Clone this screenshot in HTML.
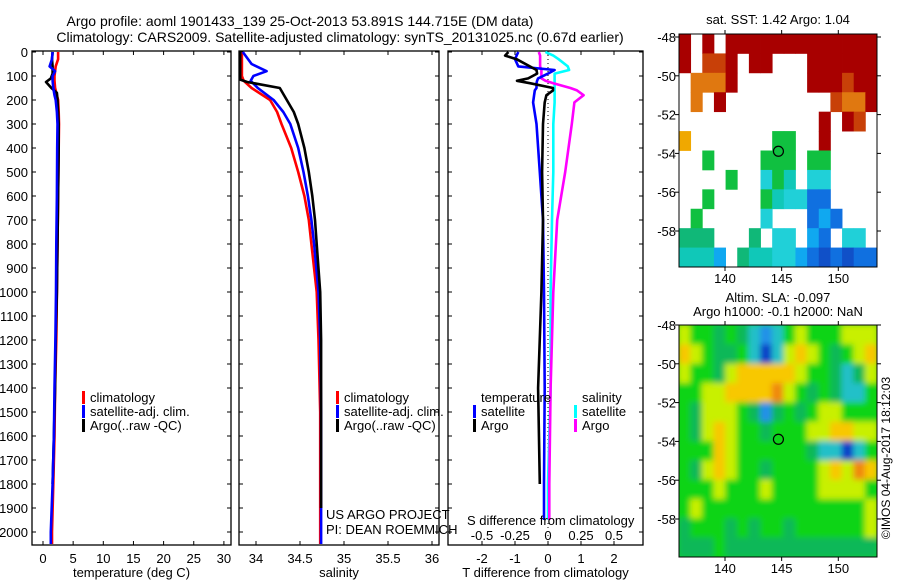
<!DOCTYPE html>
<html><head><meta charset="utf-8">
<style>
body{margin:0;background:#fff;}
svg{display:block;font-family:"Liberation Sans",sans-serif;}
text{fill:#000;}
</style></head>
<body>
<svg id="fig" width="900" height="580" viewBox="0 0 900 580" xmlns="http://www.w3.org/2000/svg">
<text x="300" y="26" font-size="14" text-anchor="middle">Argo profile: aoml 1901433_139 25-Oct-2013 53.891S 144.715E (DM data)</text>
<text x="340" y="42" font-size="14" text-anchor="middle">Climatology: CARS2009. Satellite-adjusted climatology: synTS_20131025.nc (0.67d earlier)</text>
<g id="g"></g>
</svg>
<script>
// ---- profile data (depth in dbar) ----
const tDepth = [0,30,60,80,100,120,150,180,200,250,300,400,600,800,1000,1200,1400,1600,1800,2000,2050];
const tClim = [2.5,2.5,2.1,2.0,1.9,1.9,2.0,2.3,2.5,2.6,2.65,2.6,2.5,2.4,2.3,2.2,2.0,1.9,1.7,1.5,1.5];
const tSat  = [1.6,1.5,1.1,2.0,1.6,1.6,1.7,1.9,2.1,2.3,2.4,2.35,2.3,2.2,2.15,2.05,1.9,1.8,1.6,1.3,1.3];
const tArgoDepth = [0,30,60,90,110,125,150,170,200,300,400,600,800,1000,1200,1400,1600,1800];
const tArgo = [1.6,1.5,1.6,1.6,1.3,0.5,1.4,2.3,2.4,2.6,2.6,2.5,2.4,2.3,2.1,2.0,1.8,1.6];
const sDepth = [0,50,80,100,120,150,200,250,300,400,500,600,700,800,1000,1200,1500,2000,2050];
const sClim = [33.84,33.84,33.84,33.84,33.86,33.95,34.16,34.24,34.29,34.4,34.48,34.55,34.6,34.63,34.69,34.71,34.73,34.73,34.73];
const sSat  = [33.85,33.95,34.12,33.97,33.94,34.02,34.2,34.31,34.39,34.48,34.54,34.59,34.63,34.66,34.71,34.73,34.74,34.74,34.74];
const sArgoDepth = [0,100,115,125,150,200,250,300,400,500,600,700,800,1000,1200,1500,1900];
const sArgo = [33.82,33.82,33.82,33.9,34.27,34.35,34.43,34.48,34.55,34.6,34.64,34.67,34.69,34.73,34.74,34.74,34.74];
const dDepth = [0,15,30,60,75,90,110,120,130,150,160,180,210,300,500,700,1000,1400,1800,1950];
const dTSat  = [-0.9,-0.95,-1.0,-0.9,0.2,0.0,-0.3,-0.33,-0.35,-0.35,-0.4,-0.42,-0.45,-0.35,-0.25,-0.15,-0.12,-0.1,-0.12,-0.12];
const dTArgo = [-1.2,-1.3,-0.95,-0.55,-0.35,-0.33,-0.6,-0.94,-0.55,0.15,0.15,-0.05,-0.1,-0.15,-0.18,-0.15,-0.2,-0.3,-0.25,-0.25];
const dSSat  = [-0.02,0.04,0.08,0.15,0.16,0.05,0.05,0.05,0.05,0.05,0.05,0.05,0.05,0.04,0.04,0.03,0.02,0.02,0.0,0.0];
const dSArgo = [-0.07,-0.06,-0.06,-0.06,-0.05,-0.05,-0.05,-0.02,0.04,0.17,0.22,0.27,0.2,0.18,0.13,0.07,0.04,0.02,0.01,0.01];
const depthTicks = [0,100,200,300,400,500,600,700,800,900,1000,1100,1200,1300,1400,1500,1600,1700,1800,1900,2000];
const tTicks = [0,5,10,15,20,25,30];
const sTicks = [34,34.5,35,35.5,36];
const dTTicks = [-2,-1,0,1,2];
const dSTicks = [-0.5,-0.25,0,0.25,0.5];
// ---- maps (1-degree cells, rows lat 48..60, cols lon from 135.9) ----
const N = null;
const sstGrid = [
[3,N,3,N,3,3,3,3,3,3,3,3,3,3,3,3,3],
[3,N,2.5,2.5,3,N,3,3,N,N,N,3,3,3,3,3,3],
[N,2,2,2,3,N,N,N,N,N,N,3,3,3,2.5,3,3],
[N,2,N,3,N,N,N,N,N,N,N,N,N,2.5,2,2,3],
[N,N,N,N,N,N,N,N,N,N,N,N,3,N,3,2.5,N],
[1.8,N,N,N,N,N,N,N,1,1,N,N,3,N,N,N,N],
[N,N,1,N,N,N,N,1,1,1,N,1,1,N,N,N,N],
[N,N,N,N,1,N,N,0.5,1,0.6,N,0.5,0.5,N,N,N,N],
[N,N,1,N,N,N,N,1,0.6,0.5,0.5,0,0,N,N,N,N],
[N,1,N,N,N,N,N,0.5,N,N,N,0,0.3,0,N,N,N],
[0.8,0.8,0.8,N,N,N,0.8,N,0.5,0.5,N,0.3,0,N,0.5,0.5,N],
[0.6,0.6,0.7,0.3,N,0.8,0.6,0.7,0.5,0.5,0.3,0,-0.3,0,-0.3,0,0]];
const slaGrid = [
[0.5,0,0,-0.5,0,-0.5,-1,-1.5,-1,0,0.5,0,0,0,0.5,0.5,0.5],
[1,0.5,0,-0.5,-0.5,0,-1,-2,-1,0.5,1,0.5,0,-0.5,0,0.5,1],
[0.5,0,0,-0.5,0.5,1,1,1,1,1,0.5,0,0,-0.5,-1,-0.5,0.5],
[0,0,0.5,0.5,1,1,1,1,1.5,0.5,0,-0.5,0,-0.5,-1,-1,0],
[0,-0.5,0.5,0.5,0.5,0,-0.5,-1.5,-0.5,0,-0.5,0,0.5,0.5,0,0,0],
[0,-0.5,0.5,1,0.5,0,0,-0.5,0,0,0,0.5,0.5,1,1,0.5,0.5],
[0,0,0,1,0.5,0,0,0,0,0,0,-0.5,-1,-1,-2,-1,0],
[0,-0.5,0.5,1,0.5,0,0,-0.5,0,0,0,0,0.5,1,0.5,1.5,1],
[0,0,0,0.5,0,0,0,0.5,0,0,0,0,0.5,0.5,0.5,0.5,0],
[0,0.5,0,0,0,0,0,0,0,0,0,0,0,0,0,0,0.5],
[-0.5,0,0,0,-0.5,0,-0.5,0,0,-0.5,0,0,0,0,0,0,0.5],
[-0.5,-0.5,-0.5,0,-0.5,-0.5,-0.5,-0.5,-0.5,-0.5,-0.5,-0.5,-0.5,-0.5,-0.5,-0.5,-0.5]];
const latTicks = [48,50,52,54,56,58];
const lonTicks = [140,145,150];
const floatLon = 144.715, floatLat = 53.891;

const NS="http://www.w3.org/2000/svg";
const G=document.getElementById('g');
function mk(tag,attrs,parent){const e=document.createElementNS(NS,tag);for(const k in attrs)e.setAttribute(k,attrs[k]);(parent||G).appendChild(e);return e;}
function txt(s,x,y,attrs,parent){const e=mk('text',Object.assign({x:x,y:y,'font-size':13},attrs||{}),parent);e.textContent=s;return e;}

const yD = d => 52 + 0.24*d;
const PT=51, PB=545;
const xT = v => 43 + 6.03*v;
const xS = v => 256 + 88*(v-34);
const xDT = v => 548 + 33*v;
const xDS = v => 548 + 132*v;

function panel(name,x0,x1,ticks,xf,xlabel,showY){
  const r=mk('rect',{x:x0,y:PT,width:x1-x0,height:PB-PT,fill:'none',stroke:'#000','stroke-width':1.3});
  
  
  depthTicks.forEach(d=>{const y=yD(d);
    mk('line',{x1:x0,x2:x0+4,y1:y,y2:y,stroke:'#000'});
    mk('line',{x1:x1,x2:x1-4,y1:y,y2:y,stroke:'#000'});
    if(showY){const t=txt(String(d),28,y+5,{'text-anchor':'end'});
      
      }
  });
  ticks.forEach(v=>{const x=xf(v);
    mk('line',{x1:x,x2:x,y1:PB,y2:PB-4,stroke:'#000'});
    mk('line',{x1:x,x2:x,y1:PT,y2:PT+4,stroke:'#000'});
    const t=txt(String(v),x,563,{'text-anchor':'middle'});
    
    
  });
  const l=txt(xlabel,(x0+x1)/2,577,{'text-anchor':'middle'});
  
  
}
function line(name,depths,vals,xf,color,w){
  const pts=depths.map((d,i)=>xf(vals[i]).toFixed(1)+','+Math.min(yD(d),PB).toFixed(1)).join(' ');
  const p=mk('polyline',{points:pts,fill:'none',stroke:color,'stroke-width':w||2.6,'stroke-linejoin':'round'});
  
  
}
function legend(items,x,y){
  items.forEach((it,i)=>{
    if(it[1]) mk('rect',{x:x,y:y+i*14-11,width:3,height:13,fill:it[1]});
    const t=txt(it[0],x+8,y+i*14,{});
    
    
  });
}

panel('temperature-panel',32,231,tTicks,xT,'temperature (deg C)',true);
panel('salinity-panel',239,439,sTicks,xS,'salinity',false);
panel('difference-panel',448,643,dTTicks,xDT,'T difference from climatology',false);

line('temp-climatology-line',tDepth,tClim,xT,'#f00');
line('temp-argo-line',tArgoDepth,tArgo,xT,'#000');
line('temp-satellite-line',tDepth,tSat,xT,'#00f');
line('sal-climatology-line',sDepth,sClim,xS,'#f00');
line('sal-satellite-line',sDepth,sSat,xS,'#00f');
line('sal-argo-line',sArgoDepth,sArgo,xS,'#000');
const zl=mk('line',{x1:xDT(0),x2:xDT(0),y1:PT,y2:PB,stroke:'#000','stroke-dasharray':'1,3'});


line('salinity-satellite-diff-line',dDepth,dSSat,xDS,'#0ff');
line('salinity-argo-diff-line',dDepth,dSArgo,xDS,'#f0f');
line('temp-satellite-diff-line',dDepth,dTSat,xDT,'#00f');
line('temp-argo-diff-line',dDepth.slice(0,19),dTArgo.slice(0,19),xDT,'#000');

legend([['climatology','#f00'],['satellite-adj. clim.','#00f'],['Argo(..raw -QC)','#000']],82,402);
legend([['climatology','#f00'],['satellite-adj. clim.','#00f'],['Argo(..raw -QC)','#000']],336,402);
legend([['temperature',null],['satellite','#00f'],['Argo','#000']],473,402);
legend([['salinity',null],['satellite','#0ff'],['Argo','#f0f']],574,402);
txt('US ARGO PROJECT',326,519,{});
txt('PI: DEAN ROEMMICH',326,534,{});
txt('S difference from climatology',467,525,{});
dSTicks.forEach(v=>{const t=txt(String(v),xDS(v),540,{'text-anchor':'middle'});
  
  });

// ---- maps ----
const MX0=679, MX1=877;
const xLon = lon => 725 + 11.33*(lon-140);
function sstColor(v){if(v>=2.8)return '#a80000';if(v>=2.3)return '#c84008';if(v>=1.9)return '#e07810';if(v>=1.5)return '#f0a800';
 if(v>=0.9)return '#10c040';if(v>=0.75)return '#10b878';if(v>=0.55)return '#10c8b8';if(v>=0.4)return '#20d0d8';if(v>=0.2)return '#10a8f0';if(v>=-0.1)return '#1070e0';return '#1050c8';}
function slaColor(v){if(v<=-1.9)return '#1040c8';if(v<=-1.4)return '#2090e8';if(v<=-0.9)return '#20c0c8';if(v<=-0.4)return '#10b858';
 if(v<0.4)return '#10d418';if(v<0.9)return '#c8f000';if(v<1.4)return '#f8c800';return '#f08810';}
function map(name,top,bottom,grid,colf,lat0y,blur){
  const yLat = lat => lat0y + 19.4*(lat-48);
  const cid=name+'-clip';
  const cp=mk('clipPath',{id:cid});mk('rect',{x:MX0,y:top,width:MX1-MX0,height:bottom-top},cp);
  if(blur){const f=mk('filter',{id:name+'-blur',x:'-10%',y:'-10%',width:'120%',height:'120%'});mk('feGaussianBlur',{stdDeviation:3},f);}
  const gg=mk('g',{'clip-path':'url(#'+cid+')'});
  const inner=mk('g',blur?{filter:'url(#'+name+'-blur)'}:{},gg);
  const cw=(MX1-MX0)/17, rh=(bottom-top)/12;
  grid.forEach((row,r)=>row.forEach((v,c)=>{ if(v===null)return;
    const cell=mk('rect',{x:MX0+c*cw-(blur?0.5:0),y:top+r*rh,width:cw+(blur?1:0.4),height:rh+0.4,fill:colf(v)},inner);
    
    
  }));
  if(blur){inner.insertBefore(mk('rect',{x:MX0-20,y:top-20,width:240,height:bottom-top+40,fill:'#10d418'},inner),inner.firstChild);}
  const fr=mk('rect',{x:MX0,y:top,width:MX1-MX0,height:bottom-top,fill:'none',stroke:'#000'});
  
  
  latTicks.forEach(l=>{const y=yLat(l);
    mk('line',{x1:MX0-4,x2:MX0,y1:y,y2:y,stroke:'#000'});mk('line',{x1:MX1,x2:MX1+4,y1:y,y2:y,stroke:'#000'});
    const t=txt('-'+l,676,y+5,{'text-anchor':'end'});
    
    });
  lonTicks.forEach(l=>{const x=xLon(l);
    mk('line',{x1:x,x2:x,y1:top-4,y2:top,stroke:'#000'});mk('line',{x1:x,x2:x,y1:bottom,y2:bottom+4,stroke:'#000'});
    const t=txt(String(l),x,bottom+16,{'text-anchor':'middle'});
    
    });
  const c=mk('circle',{cx:xLon(floatLon),cy:yLat(floatLat),r:5,fill:'none',stroke:'#000','stroke-width':1.2});
  
  
}
map('sst-map',34,267,sstGrid,sstColor,37,false);
map('sla-map',325,557,slaGrid,slaColor,325,true);
txt('sat. SST: 1.42 Argo: 1.04',778,24,{'text-anchor':'middle'});
txt('Altim. SLA: -0.097',778,302,{'text-anchor':'middle'});
txt('Argo h1000: -0.1 h2000: NaN',778,316,{'text-anchor':'middle'});
const cr=txt('©IMOS 04-Aug-2017 18:12:03',0,0,{'text-anchor':'middle',transform:'translate(890,458) rotate(-90)','font-size':12});


</script>
</body></html>
